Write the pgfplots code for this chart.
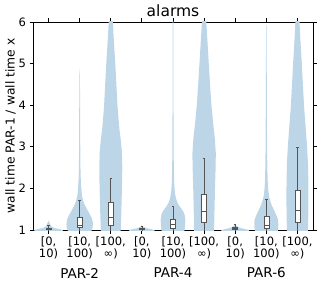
\documentclass[border=0pt]{standalone}
\usepackage{pgfplots}
\pgfplotsset{compat=1.18}
\usepackage{pgfplotstable}
\usepgfplotslibrary{statistics}
\usetikzlibrary{calc}
\usepackage{fontspec}
\setmainfont{DejaVu Sans}
\definecolor{vio}{HTML}{BCD6E8}
\definecolor{boxc}{HTML}{555555}

% violin outlines: offset d from the category position (data units) against y
\pgfplotstableread{
y d
0.95 0.47
1.00 0.45
1.02 0.36
1.04 0.24
1.06 0.15
1.08 0.10
1.11 0.07
1.14 0.05
1.18 0.03
1.22 0.00
1.18 -0.03
1.14 -0.05
1.11 -0.07
1.08 -0.10
1.06 -0.15
1.04 -0.24
1.02 -0.36
1.00 -0.45
0.95 -0.47
}\vA
\pgfplotstableread{
y d
0.95 0.36
1.00 0.39
1.06 0.415
1.12 0.425
1.20 0.42
1.28 0.39
1.36 0.34
1.44 0.28
1.52 0.22
1.60 0.165
1.70 0.115
1.80 0.08
1.95 0.058
2.10 0.042
2.40 0.028
2.80 0.02
3.50 0.016
4.20 0.012
4.70 0.008
4.90 0.0
4.70 -0.008
4.20 -0.012
3.50 -0.016
2.80 -0.02
2.40 -0.028
2.10 -0.042
1.95 -0.058
1.80 -0.08
1.70 -0.115
1.60 -0.165
1.52 -0.22
1.44 -0.28
1.36 -0.34
1.28 -0.39
1.20 -0.42
1.12 -0.425
1.06 -0.415
1.00 -0.39
0.95 -0.36
}\vB
\pgfplotstableread{
y d
0.95 0.315
1.00 0.32
1.40 0.338
1.80 0.352
2.20 0.365
2.50 0.37
2.90 0.355
3.20 0.315
3.40 0.28
3.70 0.245
4.00 0.215
4.50 0.18
5.00 0.145
5.50 0.103
6.00 0.066
6.50 0.035
6.50 -0.035
6.00 -0.066
5.50 -0.103
5.00 -0.145
4.50 -0.18
4.00 -0.215
3.70 -0.245
3.40 -0.28
3.20 -0.315
2.90 -0.355
2.50 -0.37
2.20 -0.365
1.80 -0.352
1.40 -0.338
1.00 -0.32
0.95 -0.315
}\vC
\pgfplotstableread{
y d
0.95 0.42
1.00 0.40
1.02 0.30
1.04 0.18
1.06 0.10
1.08 0.05
1.10 0.02
1.12 0.00
1.10 -0.02
1.08 -0.05
1.06 -0.10
1.04 -0.18
1.02 -0.30
1.00 -0.40
0.95 -0.42
}\vD
\pgfplotstableread{
y d
0.95 0.35
1.00 0.37
1.10 0.39
1.24 0.395
1.34 0.38
1.42 0.35
1.50 0.28
1.58 0.20
1.66 0.14
1.76 0.095
1.90 0.06
2.10 0.04
2.50 0.026
3.00 0.02
4.00 0.015
5.00 0.012
6.30 0.01
6.30 -0.01
5.00 -0.012
4.00 -0.015
3.00 -0.02
2.50 -0.026
2.10 -0.04
1.90 -0.06
1.76 -0.095
1.66 -0.14
1.58 -0.20
1.50 -0.28
1.42 -0.35
1.34 -0.38
1.24 -0.395
1.10 -0.39
1.00 -0.37
0.95 -0.35
}\vE
\pgfplotstableread{
y d
0.95 0.315
1.00 0.32
1.50 0.335
2.00 0.35
2.50 0.37
2.85 0.376
3.20 0.345
3.50 0.30
3.80 0.26
4.00 0.235
4.50 0.19
5.00 0.15
5.50 0.11
6.00 0.07
6.50 0.04
6.50 -0.04
6.00 -0.07
5.50 -0.11
5.00 -0.15
4.50 -0.19
4.00 -0.235
3.80 -0.26
3.50 -0.30
3.20 -0.345
2.85 -0.376
2.50 -0.37
2.00 -0.35
1.50 -0.335
1.00 -0.32
0.95 -0.315
}\vF
\pgfplotstableread{
y d
0.95 0.46
1.00 0.44
1.02 0.33
1.04 0.22
1.06 0.13
1.08 0.08
1.10 0.05
1.12 0.03
1.15 0.00
1.12 -0.03
1.10 -0.05
1.08 -0.08
1.06 -0.13
1.04 -0.22
1.02 -0.33
1.00 -0.44
0.95 -0.46
}\vG
\pgfplotstableread{
y d
0.95 0.36
1.00 0.375
1.10 0.385
1.24 0.38
1.34 0.33
1.44 0.27
1.52 0.22
1.60 0.17
1.70 0.125
1.80 0.09
1.96 0.062
2.20 0.042
2.60 0.03
3.20 0.022
4.00 0.017
5.00 0.012
5.90 0.006
5.95 0.0
5.90 -0.006
5.00 -0.012
4.00 -0.017
3.20 -0.022
2.60 -0.03
2.20 -0.042
1.96 -0.062
1.80 -0.09
1.70 -0.125
1.60 -0.17
1.52 -0.22
1.44 -0.27
1.34 -0.33
1.24 -0.38
1.10 -0.385
1.00 -0.375
0.95 -0.36
}\vH
\pgfplotstableread{
y d
0.95 0.335
1.00 0.338
1.40 0.35
1.80 0.355
2.20 0.35
2.60 0.338
3.00 0.31
3.40 0.27
3.70 0.24
4.00 0.21
4.50 0.175
5.00 0.14
5.50 0.10
6.00 0.066
6.50 0.035
6.50 -0.035
6.00 -0.066
5.50 -0.10
5.00 -0.14
4.50 -0.175
4.00 -0.21
3.70 -0.24
3.40 -0.27
3.00 -0.31
2.60 -0.338
2.20 -0.35
1.80 -0.355
1.40 -0.35
1.00 -0.338
0.95 -0.335
}\vI

\newcommand{\violin}[2]{%
  \addplot[fill=vio, draw=none, forget plot] table[x expr=#1+\thisrow{d}, y=y]{#2} -- cycle;
}
\newcommand{\bx}[6]{%
  \addplot[draw=boxc, fill=white, line width=0.6pt, solid, mark=none, forget plot,
    boxplot/draw direction=y,
    boxplot prepared={draw position=#1, lower whisker=#2, lower quartile=#3,
      median=#4, upper quartile=#5, upper whisker=#6,
      box extend=0.16, whisker extend=0.08}] coordinates {};
}

\begin{document}
\begin{tikzpicture}
\begin{axis}[
  scale only axis, width=280pt, height=208pt,
  xmin=-0.5, xmax=8.5, ymin=1, ymax=6,
  xtick={0,...,8},
  xticklabels={{[0,\\10)},{[10,\\100)},{[100,\\∞)},{[0,\\10)},{[10,\\100)},{[100,\\∞)},{[0,\\10)},{[10,\\100)},{[100,\\∞)}},
  xticklabel style={align=center, font=\fontsize{11.5}{12}\selectfont},
  ytick={1,...,6},
  yticklabel style={font=\fontsize{11.5}{12}\selectfont},
  /pgf/number format/assume math mode=true,
  tick align=outside, major tick length=3.5pt,
  tick style={black, line width=0.8pt},
  axis line style={line width=0.8pt},
  minor tick num=0,
  title={alarms},
  title style={font=\fontsize{15.5}{18}\selectfont, yshift=-4.5pt},
  ylabel={wall time PAR-1 / wall time x},
  ylabel style={font=\fontsize{12.3}{14}\selectfont, yshift=-4pt},
  clip=true,
]
\violin{0}{\vA}
\violin{1}{\vB}
\violin{2}{\vC}
\violin{3}{\vD}
\violin{4}{\vE}
\violin{5}{\vF}
\violin{6}{\vG}
\violin{7}{\vH}
\violin{8}{\vI}
\bx{0}{0.95}{1.01}{1.03}{1.05}{1.12}
\bx{1}{0.95}{1.055}{1.12}{1.305}{1.71}
\bx{2}{0.95}{1.11}{1.31}{1.66}{2.24}
\bx{3}{0.95}{1.01}{1.03}{1.05}{1.09}
\bx{4}{0.95}{1.04}{1.14}{1.26}{1.57}
\bx{5}{0.95}{1.19}{1.46}{1.85}{2.72}
\bx{6}{0.95}{1.015}{1.04}{1.06}{1.13}
\bx{7}{0.95}{1.05}{1.11}{1.34}{1.74}
\bx{8}{0.95}{1.19}{1.48}{1.96}{3.0}
\coordinate (ll) at (rel axis cs:0,0);
\coordinate (ur) at (rel axis cs:1,1);
\coordinate (g1) at (axis cs:1,1);
\coordinate (g2) at (axis cs:4,1);
\coordinate (g3) at (axis cs:7,1);
\end{axis}
\node[font=\fontsize{13.5}{16}\selectfont] at ($(g1)+(0,-43pt)$) {PAR-2};
\node[font=\fontsize{13.5}{16}\selectfont] at ($(g2)+(0,-43pt)$) {PAR-4};
\node[font=\fontsize{13.5}{16}\selectfont] at ($(g3)+(0,-43pt)$) {PAR-6};
\pgfresetboundingbox
\path ($(ll)+(-33pt,-57pt)$) rectangle ($(ur)+(6pt,22pt)$);
\end{tikzpicture}
\end{document}
